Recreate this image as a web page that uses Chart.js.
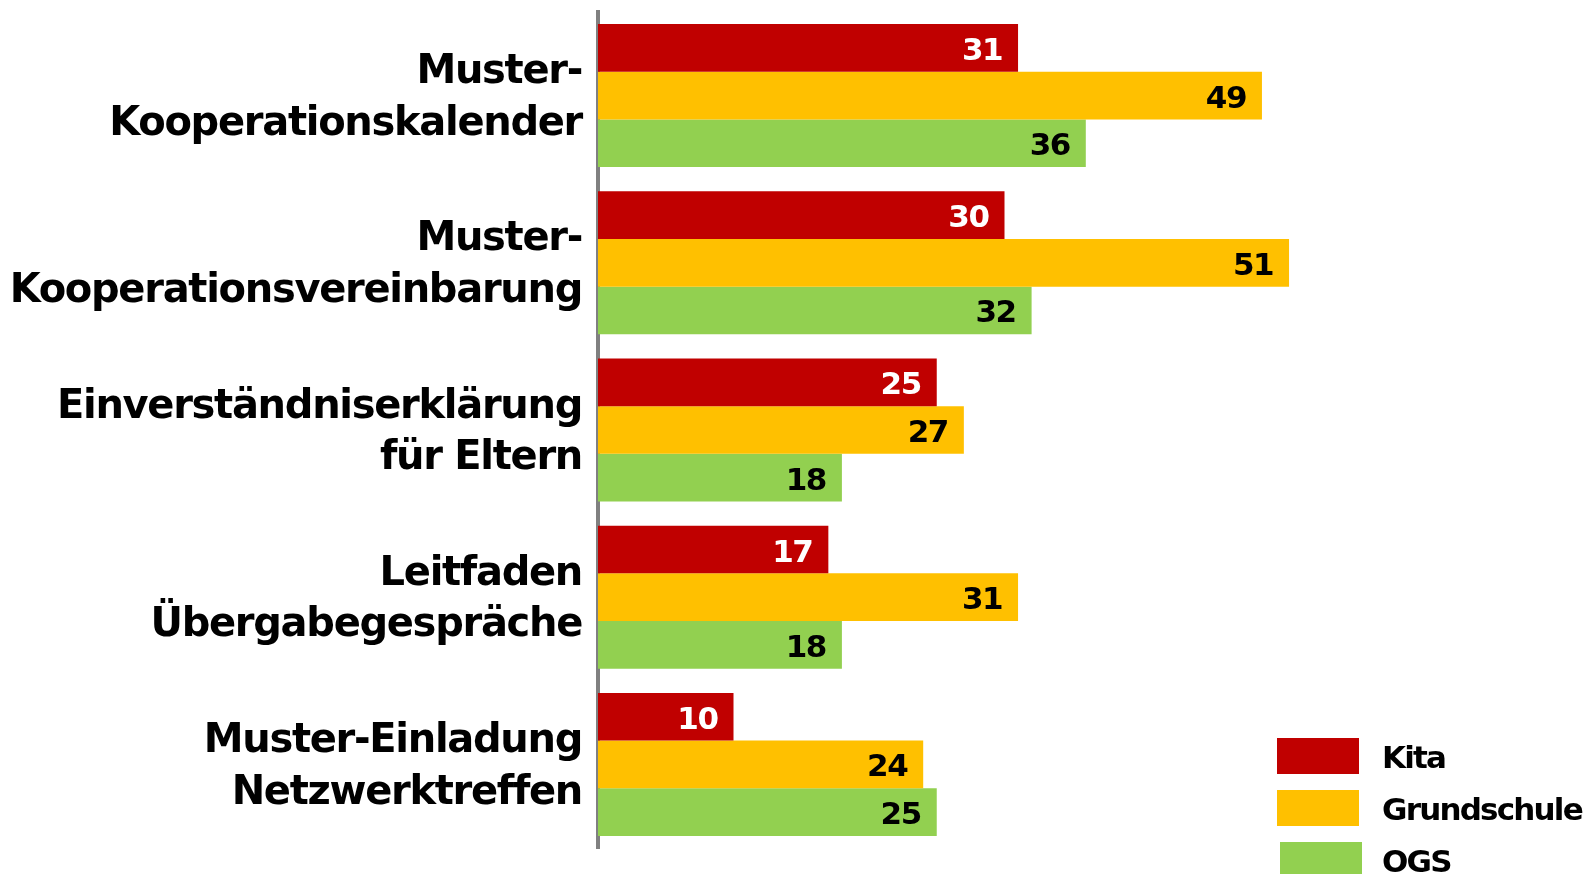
<!DOCTYPE html>
<html>
<head>
<meta charset="utf-8">
<script src="https://cdn.jsdelivr.net/npm/chart.js@4.4.1/dist/chart.umd.min.js"></script>
<style>
  html, body { margin: 0; padding: 0; background: #fff; overflow: hidden; }
  #wrap { position: relative; width: 1586px; height: 874px; }
</style>
</head>
<body>
<div id="wrap"><canvas id="c"></canvas></div>
<script>
const categories = [
  ["Muster-", "Kooperationskalender"],
  ["Muster-", "Kooperationsvereinbarung"],
  ["Einverständniserklärung", "für Eltern"],
  ["Leitfaden", "Übergabegespräche"],
  ["Muster-Einladung", "Netzwerktreffen"]
];
const seriesNames = ["Kita", "Grundschule", "OGS"];
const kita = [31, 30, 25, 17, 10];
const grundschule = [49, 51, 27, 31, 24];
const ogs = [36, 32, 18, 18, 25];

const FONT = "'DejaVu Sans', sans-serif";
const colors = ["#C00000", "#FFC000", "#92D050"];
const labelColors = ["#FFFFFF", "#000000", "#000000"];

const tightText = {
  id: 'tightText',
  beforeDraw(chart) { chart.ctx.letterSpacing = '-1.3px'; }
};

const valueLabels = {
  id: 'valueLabels',
  afterDatasetsDraw(chart) {
    const ctx = chart.ctx;
    ctx.save();
    ctx.letterSpacing = '-1.5px';
    ctx.font = "bold 31px " + FONT;
    ctx.textAlign = 'right';
    ctx.textBaseline = 'alphabetic';
    chart.data.datasets.forEach((ds, di) => {
      const meta = chart.getDatasetMeta(di);
      ctx.fillStyle = labelColors[di];
      meta.data.forEach((bar, i) => {
        ctx.fillText(String(ds.data[i]), bar.x - 16, bar.y + 12);
      });
    });
    ctx.restore();
  }
};

const sideLegend = {
  id: 'sideLegend',
  afterDraw(chart) {
    const ctx = chart.ctx;
    ctx.save();
    ctx.letterSpacing = '-1.8px';
    ctx.font = "bold 31px " + FONT;
    ctx.textAlign = 'left';
    ctx.textBaseline = 'alphabetic';
    chart.data.datasets.forEach((ds, di) => {
      const top = 738 + di * 52;
      const dx = di === 2 ? 3 : 0;
      ctx.fillStyle = ds.backgroundColor;
      ctx.fillRect(1277 + dx, top, 82, 36);
      ctx.fillStyle = '#000';
      ctx.fillText(ds.label, 1382, top + 30);
    });
    ctx.restore();
  }
};

new Chart(document.getElementById('c'), {
  type: 'bar',
  data: {
    labels: categories,
    datasets: [
      { label: seriesNames[0], data: kita, backgroundColor: colors[0] },
      { label: seriesNames[1], data: grundschule, backgroundColor: colors[1] },
      { label: seriesNames[2], data: ogs, backgroundColor: colors[2] }
    ]
  },
  options: {
    indexAxis: 'y',
    responsive: true,
    maintainAspectRatio: false,
    animation: false,
    layout: { padding: { top: 12, bottom: 26, left: 0, right: 175 } },
    datasets: { bar: { categoryPercentage: 0.855, barPercentage: 1.0 } },
    plugins: { legend: { display: false }, tooltip: { enabled: false } },
    scales: {
      x: { display: false, min: 0, max: 60 },
      y: {
        z: 1,
        grid: { display: false, drawTicks: false },
        border: { display: true, color: '#808080', width: 4 },
        ticks: {
          color: '#000',
          padding: 16,
          labelOffset: 3,
          font: { family: FONT, size: 40, weight: 'bold', lineHeight: 1.29 }
        },
        afterFit(scale) {
          scale.width = 598;
          scale.paddingTop = 0;
          scale.paddingBottom = 0;
        }
      }
    }
  },
  plugins: [tightText, valueLabels, sideLegend]
});
</script>
</body>
</html>
